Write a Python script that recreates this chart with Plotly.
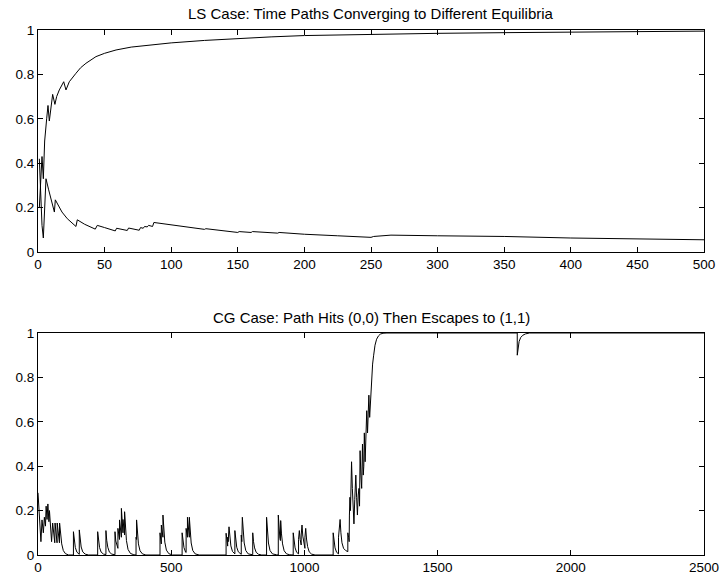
import plotly.graph_objects as go

# ---- LS case: two time paths (t, value) ----
ls_up_t = [1, 2, 3, 4, 5, 6.5, 7.5, 8.5, 9.5, 11, 12.7, 14, 16, 19.3, 21, 23.5, 28.5, 32, 36, 43.5,
           50, 58.6, 70, 85, 100, 125, 150, 175, 200, 250, 300, 350, 400, 450, 500]
ls_up_y = [0.2, 0.3, 0.43, 0.33, 0.5, 0.6, 0.66, 0.59, 0.63, 0.71, 0.665, 0.7, 0.73, 0.767, 0.73, 0.767,
           0.805, 0.83, 0.85, 0.88, 0.895, 0.91, 0.923, 0.933, 0.942, 0.953, 0.962, 0.969, 0.975, 0.981,
           0.985, 0.988, 0.991, 0.993, 0.995]

ls_lo_t = [1, 2, 3, 4, 5, 6, 8, 10, 12.3, 13, 15, 18, 22, 27, 28.5, 29.5, 35, 43, 44.5, 50, 58, 59, 67,
           68, 76, 77, 79, 80, 82, 83, 86, 87, 95, 110, 125, 126, 140, 150, 151, 160, 161, 180, 181, 200,
           225, 250, 252, 265, 300, 350, 400, 450, 500]
ls_lo_y = [0.42, 0.25, 0.12, 0.063, 0.2, 0.33, 0.28, 0.23, 0.18, 0.235, 0.21, 0.18, 0.15, 0.12, 0.115,
           0.145, 0.125, 0.103, 0.12, 0.11, 0.095, 0.107, 0.097, 0.108, 0.098, 0.11, 0.107, 0.115, 0.113,
           0.12, 0.115, 0.133, 0.126, 0.115, 0.102, 0.105, 0.095, 0.088, 0.092, 0.088, 0.092, 0.085, 0.088,
           0.08, 0.073, 0.066, 0.07, 0.076, 0.073, 0.07, 0.063, 0.06, 0.055]

# ---- CG case: single path (t, value) ----
cg_t = [0, 3, 7, 11, 15, 20, 24, 28, 30.5, 34, 37, 41, 43, 47, 51,
        55, 59, 63, 64, 68, 71.5, 72, 76, 80.5, 81, 85, 89, 95, 103, 115,
        133, 133, 136, 140, 146, 155, 155, 158, 162, 168, 177, 190,
        224, 224, 227, 231, 237, 246, 255, 255, 258, 262, 268, 277, 289, 289, 292, 296, 300, 300, 303,
        306, 306, 309, 313, 313, 316, 319, 319, 322, 325, 325, 328, 332, 338, 347, 360,
        368, 368, 370, 370, 373, 377, 383, 392, 405,
        458, 458, 461, 463, 463, 466, 469, 469, 472, 476, 482, 491, 505,
        541, 541, 544, 548, 554, 556, 556, 559, 561, 561, 564, 568, 568, 571, 575, 581, 590, 605,
        706, 706, 709, 712, 712, 714, 717, 720, 724, 730, 739, 739, 742, 746, 752, 761, 763, 763, 765,
        767, 770, 774, 780, 789, 806, 806, 809, 813, 819, 828, 840,
        858, 858, 861, 865, 871, 880, 895, 902, 902, 905, 908, 910, 911, 914, 918, 924, 933, 945,
        958, 958, 961, 965, 971, 978, 978, 981, 984, 988, 988, 991, 994, 998, 1002, 1002, 1005, 1008,
        1012, 1018, 1027, 1040,
        1108, 1108, 1111, 1115, 1121, 1128, 1128, 1131, 1134, 1137, 1141, 1147, 1155, 1163, 1163, 1166,
        1168, 1169, 1171, 1173, 1175, 1177, 1180, 1183, 1186, 1189, 1193, 1196, 1199, 1202, 1205, 1207,
        1209, 1212, 1215, 1218, 1221, 1223, 1225, 1228, 1231, 1234, 1237, 1240, 1242, 1245, 1248, 1252,
        1256, 1260, 1265, 1271, 1278, 1285, 1295, 1310,
        1799, 1799, 1802, 1806, 1812, 1820, 1830, 1845, 2500]
cg_y = [0.28, 0.2, 0.12, 0.06, 0.158, 0.1, 0.17, 0.13, 0.22, 0.16, 0.23, 0.15, 0.2, 0.1, 0.06,
        0.144, 0.085, 0.055, 0.144, 0.085, 0.055, 0.144, 0.085, 0.055, 0.144, 0.085, 0.05, 0.02, 0.006, 0,
        0, 0.105, 0.063, 0.034, 0.013, 0.003, 0.113, 0.068, 0.036, 0.014, 0.004, 0,
        0, 0.105, 0.063, 0.034, 0.013, 0.004, 0.002, 0.11, 0.066, 0.035, 0.013, 0.004, 0.001, 0.105,
        0.063, 0.04, 0.03, 0.12, 0.09,
        0.07, 0.158, 0.11, 0.08, 0.21, 0.14, 0.1, 0.16, 0.12, 0.09, 0.195, 0.12, 0.065, 0.025, 0.007, 0.001,
        0, 0.08, 0.07, 0.158, 0.095, 0.05, 0.019, 0.005, 0,
        0, 0.1, 0.065, 0.05, 0.135, 0.1, 0.08, 0.18, 0.11, 0.058, 0.022, 0.006, 0,
        0, 0.1, 0.06, 0.033, 0.013, 0.011, 0.12, 0.085, 0.08, 0.17, 0.11, 0.08, 0.17, 0.1, 0.054, 0.02,
        0.005, 0,
        0, 0.098, 0.06, 0.04, 0.08, 0.06, 0.127, 0.076, 0.041, 0.016, 0.005, 0.11, 0.066, 0.035, 0.014,
        0.004, 0.003, 0.09, 0.06,
        0.17, 0.102, 0.054, 0.02, 0.005, 0.001, 0.1, 0.06, 0.032, 0.012, 0.003, 0,
        0, 0.17, 0.102, 0.054, 0.02, 0.005, 0.001, 0, 0.18, 0.11, 0.075, 0.065, 0.155, 0.095, 0.05, 0.019,
        0.005, 0.001,
        0, 0.1, 0.06, 0.032, 0.012, 0.005, 0.07, 0.11, 0.07, 0.045, 0.09, 0.135, 0.085, 0.05, 0.03, 0.08,
        0.12, 0.072, 0.038, 0.014, 0.004, 0,
        0, 0.1, 0.06, 0.032, 0.012, 0.005, 0.08, 0.11, 0.16, 0.1, 0.055, 0.03, 0.02, 0.015, 0.1, 0.08,
        0.06, 0.18, 0.26, 0.2, 0.28, 0.42, 0.3, 0.22, 0.14, 0.25, 0.36, 0.26, 0.18, 0.27, 0.3, 0.22,
        0.47, 0.36, 0.3, 0.5, 0.36, 0.4, 0.55, 0.42, 0.5, 0.65, 0.55, 0.63, 0.72, 0.62, 0.7, 0.8,
        0.86, 0.9, 0.945, 0.972, 0.987, 0.995, 0.999, 1.0,
        1.0, 0.9, 0.94, 0.962, 0.98, 0.99, 0.996, 1.0, 1.0]

top_xticks = [0, 50, 100, 150, 200, 250, 300, 350, 400, 450, 500]
bot_xticks = [0, 500, 1000, 1500, 2000, 2500]
yticks = [0, 0.2, 0.4, 0.6, 0.8, 1]

title_top = "LS Case: Time Paths Converging to Different Equilibria"
title_bot = "CG Case: Path Hits (0,0) Then Escapes to (1,1)"

FONT = "Liberation Sans, Arial, sans-serif"
W, H = 720, 577
ML, MR, MT, MB = 38, 16, 30, 22
plot_h = H - MT - MB
top_dom = [(555 - 252) / plot_h, 1.0]
bot_dom = [0.0, (555 - 333) / plot_h]

line = dict(color="black", width=1)
fig = go.Figure()
fig.add_trace(go.Scatter(x=ls_up_t, y=ls_up_y, mode="lines", line=line, xaxis="x", yaxis="y"))
fig.add_trace(go.Scatter(x=ls_lo_t, y=ls_lo_y, mode="lines", line=line, xaxis="x", yaxis="y"))
fig.add_trace(go.Scatter(x=cg_t, y=cg_y, mode="lines", line=line, xaxis="x2", yaxis="y2"))

ax = dict(showline=True, linecolor="black", linewidth=1, mirror="ticks", ticks="inside",
          ticklen=5, tickcolor="black", tickwidth=1, showgrid=False, zeroline=False,
          tickfont=dict(family=FONT, size=13.5, color="black"), automargin=False)

fig.update_layout(
    width=W, height=H, template="none",
    paper_bgcolor="white", plot_bgcolor="white", showlegend=False,
    margin=dict(l=ML, r=MR, t=MT, b=MB),
    xaxis=dict(ax, domain=[0, 1], range=[0, 500], tickvals=top_xticks, anchor="y"),
    yaxis=dict(ax, domain=top_dom, range=[0, 1], tickvals=yticks, anchor="x"),
    xaxis2=dict(ax, domain=[0, 1], range=[0, 2500], tickvals=bot_xticks, anchor="y2"),
    yaxis2=dict(ax, domain=bot_dom, range=[0, 1], tickvals=yticks, anchor="x2"),
    annotations=[
        dict(text=title_top, xref="paper", yref="paper", x=0.5, y=(555 - 14) / plot_h,
             xanchor="center", yanchor="middle", showarrow=False,
             font=dict(family=FONT, size=15, color="black")),
        dict(text=title_bot, xref="paper", yref="paper", x=0.5, y=(555 - 317) / plot_h,
             xanchor="center", yanchor="middle", showarrow=False,
             font=dict(family=FONT, size=15, color="black")),
    ],
)

fig.write_html(
    "out.html",
    config={"displayModeBar": False},
    post_script="document.body.style.margin='0px';document.body.style.overflow='hidden';",
)
